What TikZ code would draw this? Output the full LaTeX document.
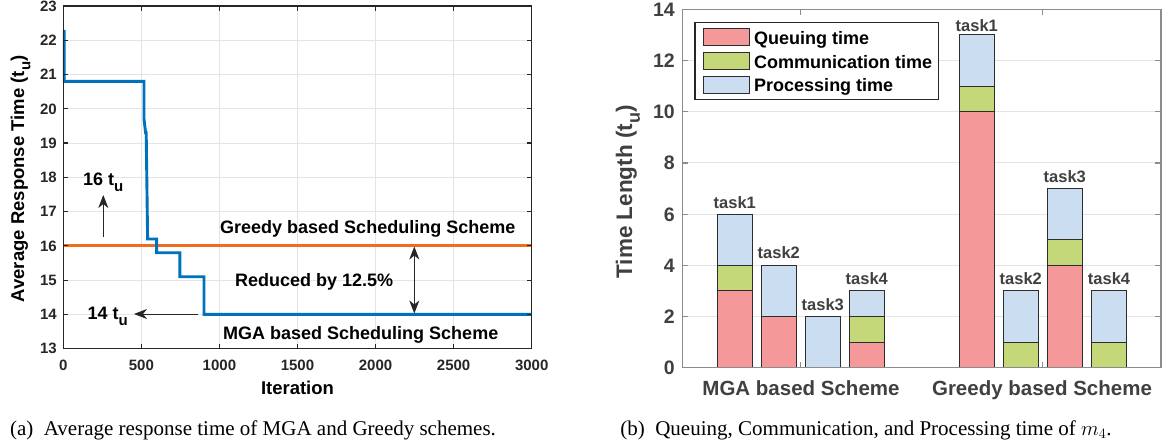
\documentclass[tikz,border=0pt]{standalone}
\usepackage{fontspec}
\setmainfont{Liberation Serif}
\setsansfont{Liberation Sans}
\usetikzlibrary{arrows.meta}
\definecolor{mblue}{RGB}{0,114,189}
\definecolor{morange}{RGB}{238,110,30}
\definecolor{gridc}{RGB}{228,228,228}
\definecolor{qcol}{RGB}{245,152,154}
\definecolor{ccol}{RGB}{196,216,122}
\definecolor{pcol}{RGB}{203,221,241}
\definecolor{txtg}{RGB}{64,64,64}
\definecolor{axg}{RGB}{140,140,140}
\definecolor{edgec}{RGB}{45,45,45}
\newcommand{\fsz}[1]{\fontsize{#1}{#1}\selectfont}
\newcommand{\su}[1]{\raisebox{-0.35em}{\fontsize{#1}{#1}\selectfont u}}
\tikzset{
  gridl/.style={draw=gridc, line width=1pt},
  boxl/.style={draw=black!85, line width=1.2pt},
  axl/.style={draw=axg, line width=1.2pt},
  curve/.style={line width=2.9pt, line join=miter},
  tickla/.style={font=\sffamily\bfseries\fsz{15}, inner sep=0pt, text=black!85},
  ticklb/.style={font=\sffamily\bfseries\fsz{19.5}, inner sep=0pt, text=txtg},
  ann/.style={font=\sffamily\bfseries\fsz{18}, inner sep=0pt},
  labla/.style={font=\sffamily\bfseries\fsz{18.5}, inner sep=0pt},
  lablb/.style={font=\sffamily\bfseries\fsz{20.5}, inner sep=0pt, text=txtg},
  taskl/.style={font=\sffamily\bfseries\fsz{16.5}, inner sep=0pt, text=txtg},
  legt/.style={font=\sffamily\bfseries\fsz{18}, inner sep=0pt},
  capt/.style={font=\fsz{21}, inner sep=0pt},
  arr/.style={-{Stealth[length=13pt,width=10pt,inset=4pt]}, line width=0.9pt, draw=black!85},
  darr/.style={{Stealth[length=13pt,width=10pt,inset=4pt]}-{Stealth[length=13pt,width=10pt,inset=4pt]}, line width=0.9pt, draw=black!85},
  bq/.style={fill=qcol, draw=edgec, line width=1pt},
  bc/.style={fill=ccol, draw=edgec, line width=1pt},
  bp/.style={fill=pcol, draw=edgec, line width=1pt},
  legbox/.style={draw=black!85, line width=1.4pt, fill=white}
}
\begin{document}
\begin{tikzpicture}[x=1pt,y=-1pt]
\useasboundingbox (0,0) rectangle (1162,444);
\fill[white] (0,0) rectangle (1162,444);

% ---------------- Left plot ----------------
\begin{scope}[shift={(63.3pt,-348.7pt)}, x=0.15613pt, y=34.27pt, shift={(0,-13)}]
  \foreach \i in {500,1000,...,2500} \draw[gridl] (\i,13) -- (\i,23);
  \foreach \v in {14,...,22} \draw[gridl] (0,\v) -- (3000,\v);
  \draw[curve, morange] (0,16) -- (3000,16);
  \draw[curve, mblue] (6,22.3) -- (6,20.8) -- (517,20.8) -- (517,19.7) -- (527,19.3) -- (531,19.3)
     -- (540,16.2) -- (598,16.2) -- (598,15.8) -- (747,15.8) -- (747,15.1) -- (901,15.1) -- (901,14) -- (3000,14);
  \draw[boxl] (0,13) rectangle (3000,23);
  \foreach \i in {0,500,...,3000} {
    \draw[boxl] (\i,13) -- (\i,13.146);
    \draw[boxl] (\i,23) -- (\i,22.854);
    \node[tickla, anchor=base] (xa\i) at (\i,13) [yshift=-21.3pt] {\i};
  }
  \foreach \v in {13,...,23} {
    \draw[boxl] (0,\v) -- (32,\v);
    \draw[boxl] (3000,\v) -- (2968,\v);
    \node[tickla, anchor=base east] (ya\v) at (0,\v) [xshift=-6.3pt, yshift=-5.2pt] {\v};
  }
\end{scope}
\node[labla, anchor=base] (xlaba) at (297.5,394) {Iteration};
\node[labla, anchor=base, rotate=90] (ylaba) at (24,179) {Average Response Time (t\su{15})};

\node[ann, anchor=base west] (t16) at (83,185) {16 t\su{15}};
\coordinate (a16s) at (103.3,237);
\coordinate (a16e) at (103.3,195);
\draw[arr] (a16s) -- (a16e);
\node[ann, anchor=base west] (t14) at (87.3,319.3) {14 t\su{15}};
\coordinate (a14s) at (198,314);
\coordinate (a14e) at (134,314);
\draw[arr] (a14s) -- (a14e);
\node[ann, anchor=base west] (greedyt) at (220,233) {Greedy based Scheduling Scheme};
\node[ann, anchor=base west] (redt) at (235,286) {Reduced by 12.5\%};
\node[ann, anchor=base west] (mgat) at (223,339) {MGA based Scheduling Scheme};
\coordinate (dtop) at (414.3,246.5);
\coordinate (dbot) at (414.3,313.5);
\draw[darr] (dtop) -- (dbot);

% ---------------- Right plot ----------------
\begin{scope}[shift={(0pt,-367.7pt)}, x=1pt, y=25.6pt]
  \foreach \v in {2,4,...,12} \draw[gridl] (682.3,\v) -- (1161,\v);
  % MGA
  \draw[bq] (717.3,0) rectangle (752.3,3);
  \draw[bc] (717.3,3) rectangle (752.3,4);
  \draw[bp] (717.3,4) rectangle (752.3,6);
  \draw[bq] (761.3,0) rectangle (796.3,2);
  \draw[bp] (761.3,2) rectangle (796.3,4);
  \draw[bp] (805.3,0) rectangle (840.3,2);
  \draw[bq] (849.3,0) rectangle (884.3,1);
  \draw[bc] (849.3,1) rectangle (884.3,2);
  \draw[bp] (849.3,2) rectangle (884.3,3);
  % Greedy
  \draw[bq] (959.3,0) rectangle (994.3,10);
  \draw[bc] (959.3,10) rectangle (994.3,11);
  \draw[bp] (959.3,11) rectangle (994.3,13);
  \draw[bc] (1003.3,0) rectangle (1038.3,1);
  \draw[bp] (1003.3,1) rectangle (1038.3,3);
  \draw[bq] (1047.3,0) rectangle (1082.3,4);
  \draw[bc] (1047.3,4) rectangle (1082.3,5);
  \draw[bp] (1047.3,5) rectangle (1082.3,7);
  \draw[bc] (1091.5,0) rectangle (1126.5,1);
  \draw[bp] (1091.5,1) rectangle (1126.5,3);
  % task labels
  \node[taskl, anchor=base] (m1) at (734.8,6) [yshift=6pt] {task1};
  \node[taskl, anchor=base] (m2) at (778.8,4) [yshift=7pt] {task2};
  \node[taskl, anchor=base] (m3) at (822.8,2) [yshift=6pt] {task3};
  \node[taskl, anchor=base] (m4) at (866.8,3) [yshift=6pt] {task4};
  \node[taskl, anchor=base] (g1) at (976.8,13) [yshift=3.4pt] {task1};
  \node[taskl, anchor=base] (g2) at (1020.8,3) [yshift=6.5pt] {task2};
  \node[taskl, anchor=base] (g3) at (1064.8,7) [yshift=5.8pt] {task3};
  \node[taskl, anchor=base] (g4) at (1109,3) [yshift=6pt] {task4};
  % axes
  \draw[axl] (682.3,0) rectangle (1161,14);
  \foreach \v in {0,2,...,14} {
    \draw[axl] (682.3,\v) -- (688.3,\v);
    \draw[axl] (1161,\v) -- (1155,\v);
    \node[ticklb, anchor=base east] (yb\v) at (675,\v) [yshift=-7pt] {\v};
  }
  \foreach \x in {800.7,1042.3} {
    \draw[axl] (\x,0) -- (\x,0.234);
    \draw[axl] (\x,14) -- (\x,13.766);
  }
  \node[lablb, anchor=base] (xb1) at (801,0) [yshift=-27.3pt] {MGA based Scheme};
  \node[lablb, anchor=base] (xb2) at (1042,0) [yshift=-27.3pt] {Greedy based Scheme};
\end{scope}
\node[lablb, font=\sffamily\bfseries\fsz{22.5}, anchor=base, rotate=90] (ylabb) at (632,192) {Time Length (t\su{18})};

% legend
\draw[legbox] (695,22.7) rectangle (938.3,99.3);
\draw[bq] (703.3,29) rectangle (749,45.7);
\draw[bc] (703.3,52.3) rectangle (749,70);
\draw[bp] (703.3,76.7) rectangle (749,93.3);
\node[legt, anchor=base west] (lq) at (754,44.5) {Queuing time};
\node[legt, anchor=base west] (lc) at (754,68.3) {Communication time};
\node[legt, anchor=base west] (lp) at (754,92) {Processing time};

% captions
\node[capt, anchor=base] (capa) at (253,435) {(a)\ \ Average response time of MGA and Greedy schemes.};
\node[capt, anchor=base] (capb) at (866,435) {(b)\ \ Queuing, Communication, and Processing time of $m_4$.};
\end{tikzpicture}
\end{document}
